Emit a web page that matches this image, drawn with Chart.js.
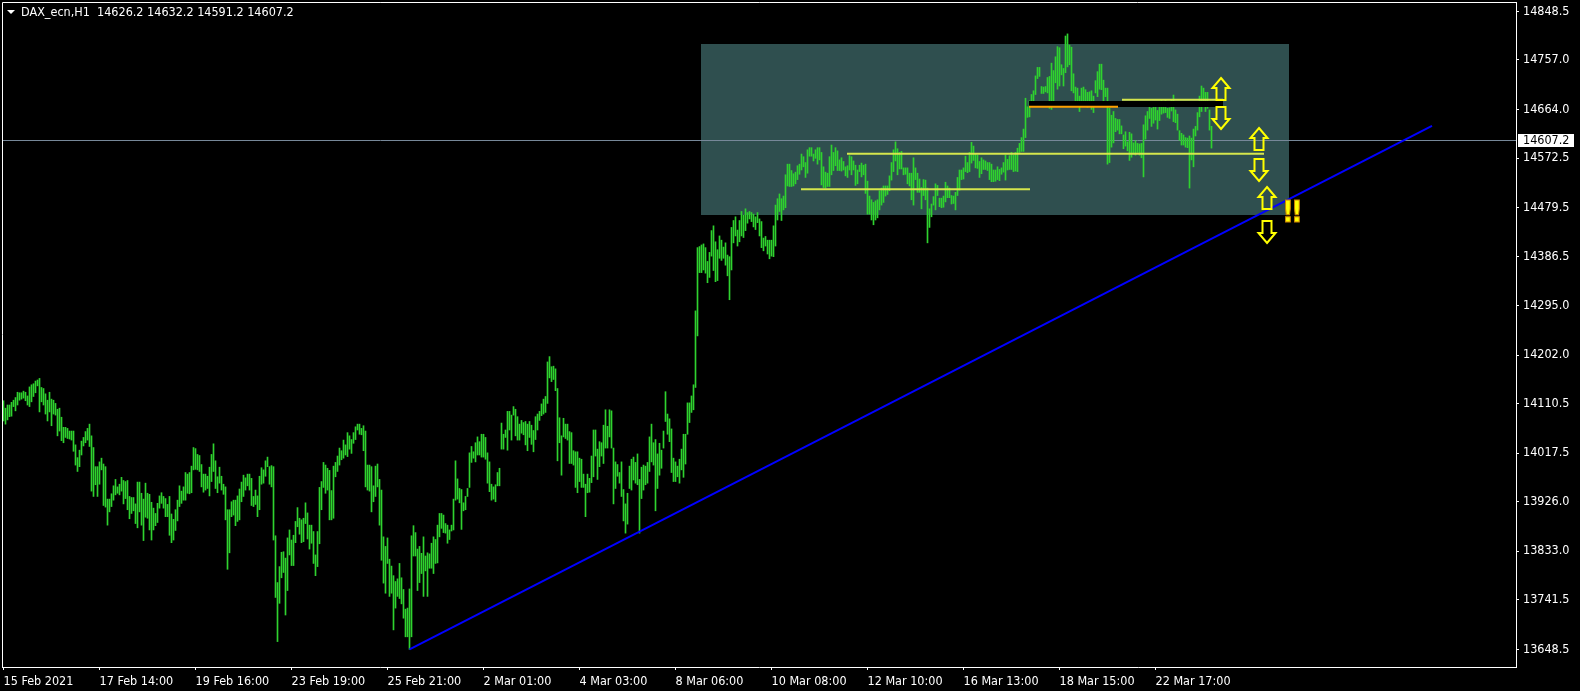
<!DOCTYPE html>
<html>
<head>
<meta charset="utf-8">
<script src="https://cdn.jsdelivr.net/npm/chart.js@4.4.0/dist/chart.umd.min.js"></script>
<style>
  html, body { margin: 0; padding: 0; background: #000; }
  canvas { display: block; }
</style>
</head>
<body>
<canvas id="chart" width="1580" height="691" style="width:1580px;height:691px"></canvas>
<script>
// DAX_ecn H1 bars, index 0 = 15 Feb 2021 00:00
var highs = [
14116,14102,14108,14108,14113,14117,14122,14132,14131,14131,14134,14132,14125,14142,14146,14148,14153,14155,14158,14141,
14139,14129,14117,14132,14119,14117,14111,14100,14102,14085,14066,14066,14064,14059,14059,14059,14033,14009,14023,14040,
14047,14058,14064,14072,14050,14028,13992,13992,14001,14008,13997,13992,13931,13931,13941,13956,13968,13954,13959,13972,
13966,13964,13966,13936,13934,13934,13922,13963,13963,13942,13931,13961,13942,13940,13925,13914,13904,13923,13937,13943,
13936,13932,13921,13936,13903,13893,13911,13929,13956,13946,13954,13981,13978,13981,13993,14028,14026,14015,14013,13996,
13978,13978,13974,13991,14015,14035,14003,13973,13991,13974,13959,13954,13911,13911,13926,13929,13929,13937,13950,13963,
13976,13971,13978,13978,13970,13936,13948,13937,13974,13990,13986,14003,14010,13992,13994,13992,13862,13774,13804,13831,
13832,13820,13858,13873,13854,13863,13889,13915,13895,13892,13895,13924,13905,13882,13882,13870,13826,13870,13953,13964,
14000,13995,13989,13985,13947,13993,14000,14012,14027,14022,14042,14033,14056,14050,14043,14056,14067,14072,14072,14064,
14069,14059,13995,13995,13992,13956,13993,13997,13968,13948,13860,13842,13858,13818,13805,13787,13776,13781,13810,13783,
13761,13724,13726,13762,13862,13881,13868,13837,13842,13829,13860,13824,13830,13828,13848,13860,13855,13882,13904,13904,
13901,13885,13882,13873,13882,13931,14003,13969,13951,13949,13924,13936,13951,14018,14030,14020,14037,14048,14039,14053,
14053,14047,14018,14001,13959,13954,13958,13981,13989,14074,14053,14061,14096,14096,14089,14105,14100,14086,14072,14079,
14075,14077,14072,14077,14070,14060,14086,14091,14096,14110,14119,14124,14189,14199,14180,14181,14176,14139,14084,14050,
14083,14072,14072,14058,14056,14022,14020,14020,14008,14006,13978,13959,13978,13970,14012,14061,14061,14025,14039,14037,
14070,14099,14068,14099,14097,14027,14001,13996,13981,14001,13949,13922,13942,13993,14006,14010,14000,14016,13968,13991,
13995,13993,14000,14048,14072,14037,14043,14016,14036,14023,14059,14133,14091,14082,14063,14008,14001,13993,14006,14025,
14053,14053,14112,14112,14125,14146,14285,14404,14406,14409,14411,14404,14378,14395,14436,14445,14415,14400,14426,14418,
14405,14413,14390,14387,14442,14455,14462,14437,14455,14472,14465,14477,14470,14472,14470,14467,14462,14470,14458,14453,
14422,14425,14418,14418,14418,14445,14484,14496,14505,14496,14501,14541,14561,14561,14549,14543,14546,14558,14561,14580,
14575,14564,14588,14592,14592,14580,14588,14592,14592,14583,14556,14546,14544,14575,14597,14583,14592,14586,14569,14573,
14566,14556,14558,14577,14575,14567,14559,14550,14559,14563,14559,14561,14529,14501,14494,14489,14492,14494,14511,14516,
14520,14520,14520,14539,14564,14588,14603,14590,14583,14585,14554,14554,14554,14544,14544,14573,14554,14544,14533,14517,
14532,14531,14516,14477,14486,14500,14524,14521,14497,14497,14501,14527,14520,14516,14502,14501,14508,14536,14550,14550,
14554,14576,14564,14583,14602,14595,14580,14578,14566,14573,14569,14567,14564,14564,14561,14550,14550,14556,14551,14554,
14564,14578,14570,14577,14583,14578,14583,14591,14600,14611,14627,14685,14669,14680,14692,14699,14727,14743,14743,14707,
14706,14707,14724,14726,14751,14737,14763,14782,14780,14748,14741,14802,14806,14785,14781,14731,14706,14704,14689,14704,
14706,14701,14696,14697,14699,14689,14718,14735,14749,14749,14719,14704,14704,14666,14653,14660,14647,14645,14645,14633,
14616,14622,14603,14621,14618,14601,14605,14600,14599,14600,14635,14652,14660,14674,14666,14670,14674,14662,14674,14682,
14677,14682,14666,14667,14682,14691,14663,14655,14624,14619,14616,14611,14610,14614,14610,14627,14632,14658,14689,14708,
14704,14696,14696,14663,14632.2
];
var lows = [
14078,14072,14080,14086,14087,14105,14097,14108,14117,14119,14121,14116,14108,14105,14114,14124,14131,14144,14095,14114,
14108,14091,14078,14095,14069,14091,14089,14050,14059,14041,14037,14047,14045,14044,14042,14021,13995,13983,13992,14014,
14031,14037,14042,14030,13946,13936,13958,13936,13959,13986,13919,13916,13882,13907,13917,13929,13939,13942,13939,13946,
13922,13932,13911,13894,13904,13909,13885,13877,13907,13882,13853,13897,13895,13873,13854,13873,13881,13887,13914,13923,
13914,13898,13898,13863,13849,13854,13872,13890,13917,13923,13929,13929,13942,13941,13943,13986,13987,13986,13983,13954,
13944,13948,13951,13937,13964,13983,13951,13943,13961,13948,13940,13892,13799,13830,13898,13901,13881,13889,13892,13926,
13936,13948,13956,13948,13919,13917,13921,13898,13911,13959,13961,13974,13992,13959,13954,13854,13746,13663,13735,13783,
13793,13713,13759,13826,13806,13806,13849,13879,13865,13849,13851,13885,13856,13837,13848,13810,13787,13804,13847,13911,
13953,13942,13948,13892,13892,13895,13973,13983,13995,14005,14008,14014,14011,14025,14017,14036,14043,14061,14053,14052,
14022,13954,13948,13946,13907,13926,13936,13954,13882,13816,13773,13754,13810,13748,13754,13685,13726,13748,13744,13734,
13707,13672,13672,13648.5,13672,13824,13824,13759,13774,13791,13748,13796,13748,13801,13801,13791,13810,13811,13860,13876,
13868,13867,13848,13855,13871,13873,13929,13931,13924,13874,13909,13911,13936,13953,14000,14008,14001,14014,14014,14010,
14010,14006,13961,13945,13929,13931,13926,13956,13956,14025,14025,14047,14023,14061,14042,14089,14050,14042,14042,14055,
14052,14033,14022,14047,14034,14020,14043,14061,14079,14088,14091,14094,14111,14159,14152,14156,14135,14003,14037,13976,
14048,14045,14042,13998,13998,13995,13953,13943,13964,13953,13953,13898,13943,13944,13962,13973,14012,13968,13992,14012,
13998,14027,14027,14048,14027,13922,13951,13974,13961,13936,13890,13867,13884,13951,13948,13967,13961,13958,13867,13932,
13948,13958,13961,13983,14001,13995,13909,13951,13976,13989,14027,14077,14053,14039,13981,13964,13964,13973,13961,13986,
13972,13997,14053,14075,14094,14099,14141,14238,14357,14357,14362,14356,14338,14348,14388,14361,14340,14342,14384,14380,
14384,14371,14351,14306,14362,14413,14426,14407,14415,14426,14423,14436,14450,14458,14453,14443,14438,14451,14426,14404,
14398,14407,14392,14383,14388,14387,14407,14456,14472,14455,14475,14479,14520,14519,14519,14520,14524,14532,14542,14550,
14556,14536,14544,14576,14576,14567,14572,14561,14569,14522,14517,14516,14519,14519,14541,14549,14558,14549,14549,14548,
14550,14539,14536,14550,14541,14550,14521,14524,14547,14537,14541,14506,14467,14467,14456,14447,14456,14460,14475,14484,
14489,14501,14504,14511,14531,14547,14567,14541,14552,14552,14541,14542,14524,14520,14494,14484,14532,14508,14508,14477,
14502,14494,14413,14442,14462,14484,14475,14502,14481,14479,14480,14490,14498,14498,14486,14487,14475,14502,14512,14532,
14533,14547,14545,14547,14563,14568,14554,14553,14536,14543,14551,14551,14549,14532,14528,14528,14529,14532,14530,14542,
14546,14531,14550,14551,14551,14547,14548,14547,14583,14585,14585,14611,14649,14650,14672,14679,14692,14722,14726,14694,
14694,14697,14695,14666,14664,14680,14714,14702,14708,14729,14708,14733,14744,14748,14699,14695,14679,14674,14660,14679,
14675,14677,14668,14670,14664,14658,14695,14688,14702,14701,14672,14688,14561,14564,14593,14601,14622,14625,14618,14618,
14590,14595,14586,14568,14574,14580,14578,14583,14578,14573,14537,14608,14625,14647,14632,14638,14644,14627,14643,14655,
14657,14658,14649,14647,14661,14641,14639,14625,14606,14597,14597,14593,14592,14516,14569,14556,14614,14625,14650,14660,
14675,14660,14666,14625,14591.2
];

var dateTicks = [0, 48, 96, 144, 192, 240, 288, 336, 384, 432, 480, 528, 576];
var dateLabels = ['15 Feb 2021', '17 Feb 14:00', '19 Feb 16:00', '23 Feb 19:00', '25 Feb 21:00', '2 Mar 01:00',
  '4 Mar 03:00', '8 Mar 06:00', '10 Mar 08:00', '12 Mar 10:00', '16 Mar 13:00', '18 Mar 15:00', '22 Mar 17:00'];
var priceTicks = [14848.5, 14757.0, 14664.0, 14572.5, 14479.5, 14386.5, 14295.0, 14202.0,
  14110.5, 14017.5, 13926.0, 13833.0, 13741.5, 13648.5];

var symbol = 'DAX_ecn,H1';
var lastOHLC = [14626.2, 14632.2, 14591.2, 14607.2];
var bidPrice = 14607.2;

// objects drawn on the chart (bar index / price)
var boxFrom = 348.75, boxTo = 642.75, boxTop = 14787.0, boxBottom = 14465.4;
var trendX = [203, 714.25];
var trendY = [13648.5, 14633.2];
var levelFrom = [398.75, 421.75, 559.25];
var levelTo = [513.25, 630.25, 609.75];
var levelPrice = [14514.0, 14580.7, 14682.2];
var bandFrom = [512.75, 512.75];
var bandTo = [609.75, 557.25];
var bandPrice = [14674.1, 14669.0];
var arrowX = [608.75, 608.75, 627.75, 627.75, 631.75, 631.75];
var arrowY = [14702.4, 14647.8, 14607.4, 14549.1, 14497.3, 14434.3];
var arrowDir = ['up', 'down', 'up', 'down', 'up', 'down'];
var alertX = 644.5, alertY = 14474.8;

var FONT = "'DejaVu Sans Condensed', 'DejaVu Sans', sans-serif";
Chart.defaults.font.family = FONT;
Chart.defaults.font.size = 12.5;
Chart.defaults.color = '#ffffff';

var n = Math.min(highs.length, lows.length);
var bars = [];
for (var i = 0; i < n; i++) bars.push({x: i, y: [lows[i], highs[i]]});

var lineSets = [];
lineSets.push({
  type: 'line', data: [{x: trendX[0], y: trendY[0]}, {x: trendX[1], y: trendY[1]}],
  borderColor: '#0000ff', borderWidth: 2, pointRadius: 0, order: 1
});
var bandStyle = [{c: '#000000', w: 6, o: 3}, {c: '#ffa000', w: 2, o: 2}];
for (var b = 0; b < bandPrice.length; b++) {
  lineSets.push({
    type: 'line', data: [{x: bandFrom[b], y: bandPrice[b]}, {x: bandTo[b], y: bandPrice[b]}],
    borderColor: bandStyle[b].c, borderWidth: bandStyle[b].w, pointRadius: 0, order: bandStyle[b].o
  });
}
for (var k = 0; k < levelPrice.length; k++) {
  lineSets.push({
    type: 'line', data: [{x: levelFrom[k], y: levelPrice[k]}, {x: levelTo[k], y: levelPrice[k]}],
    borderColor: 'rgb(214,230,76)', borderWidth: 2, pointRadius: 0, order: 1
  });
}

function arrowPath(ctx, cx, cy, dir) {
  var s = dir === 'up' ? 1 : -1;
  ctx.beginPath();
  ctx.moveTo(cx, cy - 11 * s);
  ctx.lineTo(cx + 8.5, cy - 1 * s);
  ctx.lineTo(cx + 4.5, cy - 1 * s);
  ctx.lineTo(cx + 4.5, cy + 11 * s);
  ctx.lineTo(cx - 4.5, cy + 11 * s);
  ctx.lineTo(cx - 4.5, cy - 1 * s);
  ctx.lineTo(cx - 8.5, cy - 1 * s);
  ctx.closePath();
}

var mtPlugin = {
  id: 'mt4',
  beforeDatasetsDraw: function (chart) {
    var ctx = chart.ctx, a = chart.chartArea, xs = chart.scales.x, ys = chart.scales.y;
    ctx.save();
    ctx.fillStyle = '#2f4f4f';
    var x0 = xs.getPixelForValue(boxFrom), x1 = xs.getPixelForValue(boxTo);
    var y0 = ys.getPixelForValue(boxTop), y1 = ys.getPixelForValue(boxBottom);
    ctx.fillRect(Math.round(x0), Math.round(y0), Math.round(x1 - x0), Math.round(y1 - y0));
    // bid line
    var by = Math.round(ys.getPixelForValue(bidPrice)) + 0.5;
    ctx.strokeStyle = '#778899';
    ctx.lineWidth = 1;
    ctx.beginPath();
    ctx.moveTo(a.left, by);
    ctx.lineTo(a.right, by);
    ctx.stroke();
    ctx.restore();
  },
  afterDraw: function (chart) {
    var ctx = chart.ctx, a = chart.chartArea, xs = chart.scales.x, ys = chart.scales.y;
    ctx.save();
    // frame left/top
    ctx.strokeStyle = '#ffffff';
    ctx.lineWidth = 1;
    ctx.beginPath();
    ctx.moveTo(a.left + 0.5, a.bottom);
    ctx.lineTo(a.left + 0.5, a.top + 0.5);
    ctx.lineTo(a.right, a.top + 0.5);
    ctx.stroke();

    // arrows
    ctx.lineJoin = 'miter';
    for (var i = 0; i < arrowX.length; i++) {
      var cx = Math.round(xs.getPixelForValue(arrowX[i])), cy = Math.round(ys.getPixelForValue(arrowY[i]));
      arrowPath(ctx, cx, cy, arrowDir[i]);
      ctx.strokeStyle = '#ffff00';
      ctx.lineWidth = 2;
      ctx.stroke();
    }
    // "!!"
    var ax = xs.getPixelForValue(alertX), ay = ys.getPixelForValue(alertY);
    ctx.font = 'bold 30px ' + FONT;
    ctx.textAlign = 'center';
    ctx.textBaseline = 'alphabetic';
    ctx.fillStyle = '#ffff00';
    ctx.strokeStyle = '#c88000';
    ctx.lineWidth = 1;
    [-4.5, 4.5].forEach(function (dx) {
      ctx.fillText('!', ax + dx, ay + 12);
      ctx.strokeText('!', ax + dx, ay + 12);
    });

    // bid label on the price axis
    var by = Math.round(ys.getPixelForValue(bidPrice));
    ctx.fillStyle = '#ffffff';
    ctx.fillRect(a.right + 2, by - 6, 56, 13);
    ctx.fillStyle = '#000000';
    ctx.font = '12.5px ' + FONT;
    ctx.textAlign = 'left';
    ctx.textBaseline = 'middle';
    ctx.fillText(bidPrice.toFixed(1), a.right + 7, by + 0.5);

    // title
    ctx.fillStyle = '#ffffff';
    ctx.beginPath();
    ctx.moveTo(7, 10);
    ctx.lineTo(15, 10);
    ctx.lineTo(11, 14);
    ctx.closePath();
    ctx.fill();
    ctx.fillText(symbol + '  ' + lastOHLC.map(function (v) { return v.toFixed(1); }).join(' '), 21, 13);
    ctx.restore();
  }
};

var ctx = document.getElementById('chart').getContext('2d');
var chart = new Chart(ctx, {
  type: 'bar',
  data: {
    datasets: lineSets.concat([{
      type: 'bar',
      data: bars,
      backgroundColor: '#2fd22f',
      borderWidth: 0,
      barThickness: 1,
      grouped: false,
      order: 5
    }])
  },
  options: {
    responsive: false,
    animation: false,
    events: [],
    layout: { padding: { left: 2, top: 2, right: 0, bottom: 0 } },
    plugins: { legend: { display: false }, tooltip: { enabled: false } },
    scales: {
      x: {
        type: 'linear',
        position: 'bottom',
        min: -0.75,
        max: 756.25,
        offset: false,
        afterBuildTicks: function (s) { s.ticks = dateTicks.map(function (v) { return {value: v}; }); },
        afterFit: function (s) { s.height = 24; s.paddingLeft = 0; s.paddingRight = 0; },
        ticks: {
          color: '#ffffff',
          align: 'start',
          maxRotation: 0,
          autoSkip: false,
          padding: 4,
          callback: function (v, idx) { return dateLabels[idx]; }
        },
        grid: { drawOnChartArea: false, drawTicks: true, tickLength: 3, color: '#ffffff', offset: false },
        border: { color: '#ffffff' }
      },
      y: {
        type: 'linear',
        position: 'right',
        min: 13615.2,
        max: 14866.0,
        afterBuildTicks: function (s) { s.ticks = priceTicks.map(function (v) { return {value: v}; }); },
        afterFit: function (s) { s.width = 64; s.paddingTop = 0; s.paddingBottom = 0; },
        ticks: {
          color: '#ffffff',
          padding: 4,
          autoSkip: false,
          callback: function (v) { return Number(v).toFixed(1); }
        },
        grid: { drawOnChartArea: false, drawTicks: true, tickLength: 3, color: '#ffffff' },
        border: { color: '#ffffff' }
      }
    }
  },
  plugins: [mtPlugin]
});
</script>
</body>
</html>
